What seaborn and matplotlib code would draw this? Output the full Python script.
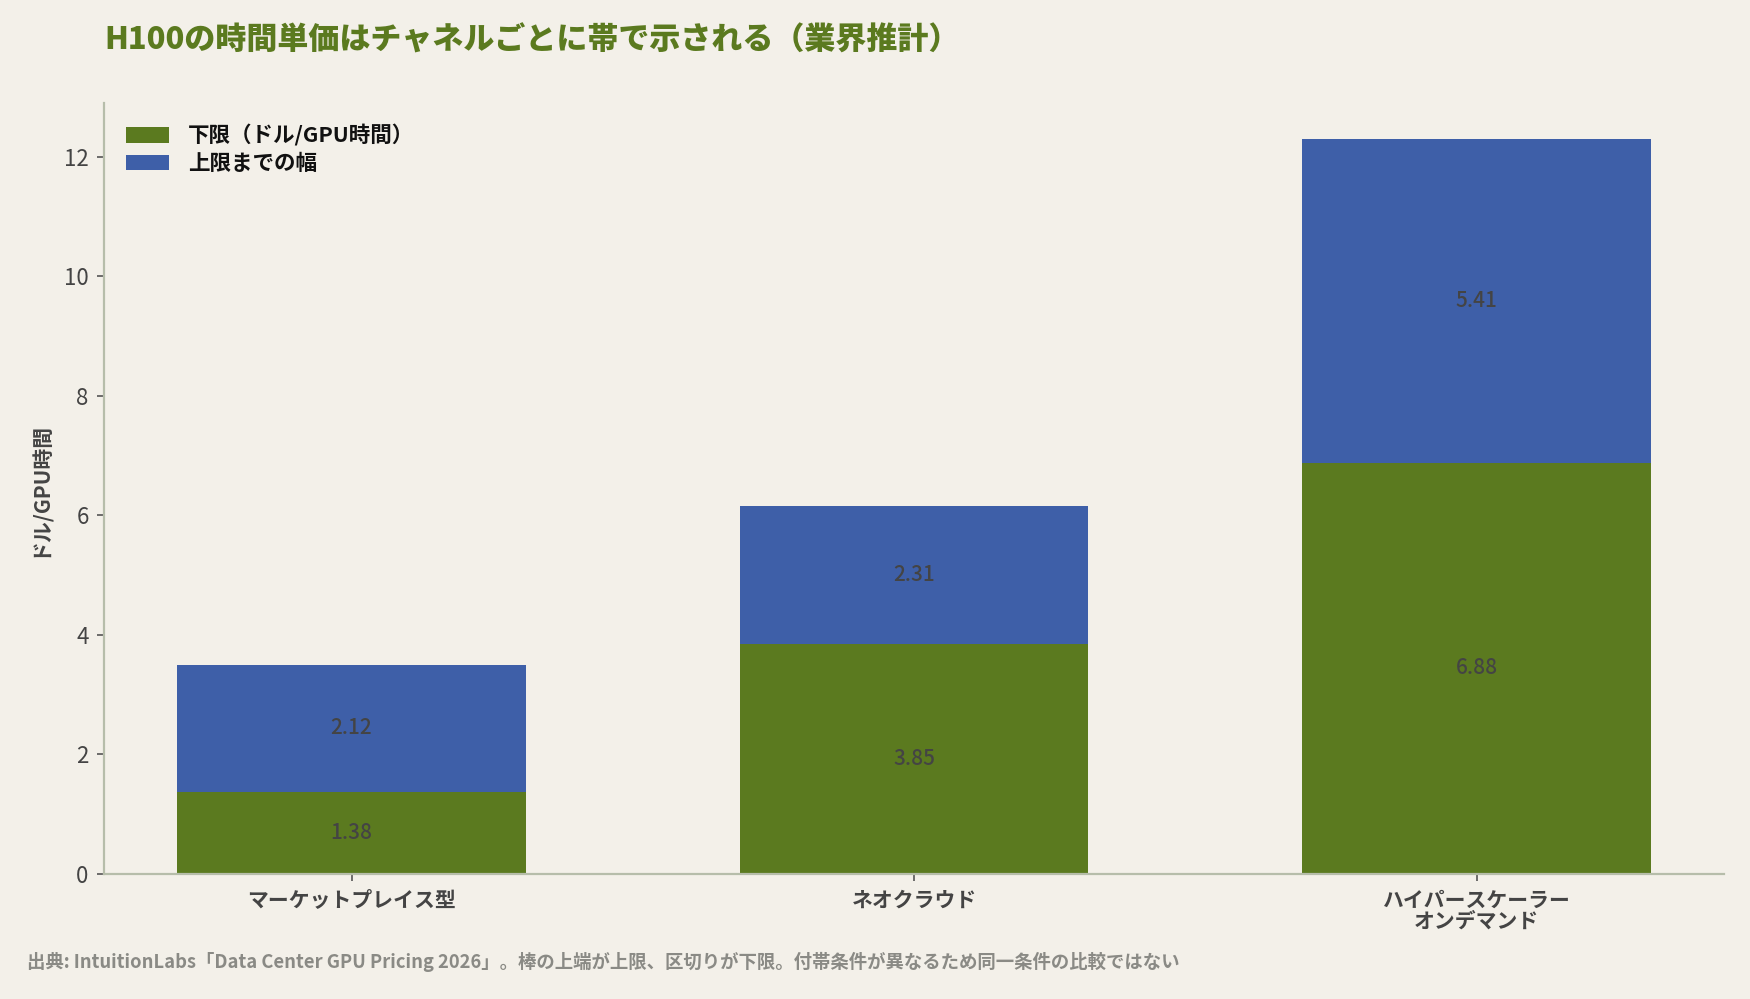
import matplotlib
matplotlib.use("Agg")
import matplotlib.pyplot as plt
import seaborn as sns
import pandas as pd
from matplotlib.patches import Patch

categories = ["マーケットプレイス型", "ネオクラウド", "ハイパースケーラー\nオンデマンド"]
lower = [1.38, 3.85, 6.88]
width_to_upper = [2.12, 2.31, 5.41]
legend_labels = ["下限（ドル/GPU時間）", "上限までの幅"]
yticks = [0, 2, 4, 6, 8, 10, 12]

title = "H100の時間単価はチャネルごとに帯で示される（業界推計）"
ylabel = "ドル/GPU時間"
footer = "出典: IntuitionLabs「Data Center GPU Pricing 2026」。棒の上端が上限、区切りが下限。付帯条件が異なるため同一条件の比較ではない"

GREEN = "#5b7a1f"
BLUE = "#3e5fa8"
BG = "#f3f0e9"
SPINE = "#b6bdaa"
TXT = "#444444"

sns.set_theme(style="white")
plt.rcParams['font.family'] = ['Noto Sans CJK JP', 'DejaVu Sans']

upper = [l + w for l, w in zip(lower, width_to_upper)]
df = pd.DataFrame({"cat": categories, "lower": lower, "upper": upper})

fig = plt.figure(figsize=(17.5, 9.99), dpi=100, facecolor=BG)
ax = fig.add_axes([104/1750, 1 - 874/999, (1724-104)/1750, (874-103)/999])
ax.set_facecolor(BG)

sns.barplot(data=df, x="cat", y="upper", color=BLUE, width=0.62, ax=ax,
            saturation=1, linewidth=0)
sns.barplot(data=df, x="cat", y="lower", color=GREEN, width=0.62, ax=ax,
            saturation=1, linewidth=0)

for i, (l, w) in enumerate(zip(lower, width_to_upper)):
    ax.text(i, l / 2, f"{l:.2f}", ha="center", va="center", fontsize=15, color=TXT,
            fontweight="medium")
    ax.text(i, l + w / 2, f"{w:.2f}", ha="center", va="center", fontsize=15, color=TXT,
            fontweight="medium")

ax.set_xlim(-0.44, 2.44)
ax.set_ylim(0, 12.9)
ax.set_yticks(yticks)
ax.set_yticklabels([str(t) for t in yticks], fontsize=16, color=TXT)
ax.set_xticks(range(len(categories)))
ax.set_xticklabels(categories, fontsize=15, fontweight="bold", color=TXT, linespacing=1.0)
ax.set_xlabel("")
ax.set_ylabel(ylabel, fontsize=15, fontweight="bold", color=TXT, labelpad=10)
ax.tick_params(axis="both", length=5, width=1.2, color="#555555", pad=6, bottom=True, left=True)

for s in ["top", "right"]:
    ax.spines[s].set_visible(False)
for s in ["left", "bottom"]:
    ax.spines[s].set_color(SPINE)
    ax.spines[s].set_linewidth(1.6)

handles = [Patch(facecolor=GREEN, edgecolor="none"), Patch(facecolor=BLUE, edgecolor="none")]
leg = ax.legend(handles, legend_labels, loc="upper left", bbox_to_anchor=(0.0, 1.0),
                frameon=False, fontsize=15.5, handlelength=2.0, handleheight=0.7,
                handletextpad=0.9, labelspacing=0.3, borderaxespad=0.6)
for t in leg.get_texts():
    t.set_fontweight("bold")
    t.set_color("#111111")

fig.text(104/1750, 1 - 40/999, title, fontsize=22.3, fontweight="black", color=GREEN,
         ha="left", va="center")
fig.text(27/1750, 1 - 962/999, footer, fontsize=13.25, fontweight="bold", color="#8a8a85",
         ha="left", va="center")

fig.savefig("out.png", dpi=100, facecolor=BG)
